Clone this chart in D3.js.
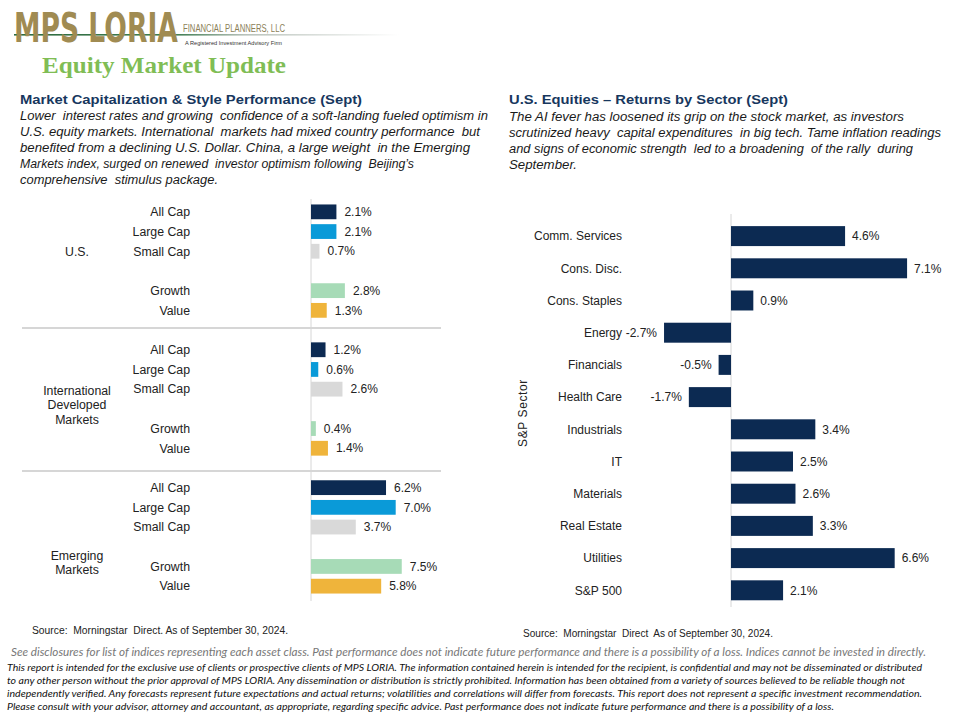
<!DOCTYPE html>
<html>
<head>
<meta charset="utf-8">
<script src="https://cdn.jsdelivr.net/npm/d3@7"></script>
<style>
  html, body { margin: 0; padding: 0; background: #ffffff; }
  svg { display: block; }
</style>
</head>
<body>
<script>
// ---------------- DATA ----------------
const styleCategories = ["All Cap", "Large Cap", "Small Cap", "Growth", "Value"];
const marketGroups = ["U.S.", "International Developed Markets", "Emerging Markets"];
const usReturns   = [2.1, 2.1, 0.7, 2.8, 1.3];
const intlReturns = [1.2, 0.6, 2.6, 0.4, 1.4];
const emReturns   = [6.2, 7.0, 3.7, 7.5, 5.8];

const sectors = ["Comm. Services", "Cons. Disc.", "Cons. Staples", "Energy", "Financials",
  "Health Care", "Industrials", "IT", "Materials", "Real Estate", "Utilities", "S&P 500"];
const sectorReturns = [4.6, 7.1, 0.9, -2.7, -0.5, -1.7, 3.4, 2.5, 2.6, 3.3, 6.6, 2.1];

const leftHeading = "Market Capitalization & Style Performance (Sept)";
const leftParagraph = [
  "Lower  interest rates and growing  confidence of a soft-landing fueled optimism in",
  "U.S. equity markets. International  markets had mixed country performance  but",
  "benefited from a declining U.S. Dollar. China, a large weight  in the Emerging",
  "Markets index, surged on renewed  investor optimism following  Beijing\u2019s",
  "comprehensive  stimulus package."
];
const rightHeading = "U.S. Equities \u2013 Returns by Sector (Sept)";
const rightParagraph = [
  "The AI fever has loosened its grip on the stock market, as investors",
  "scrutinized heavy  capital expenditures  in big tech. Tame inflation readings",
  "and signs of economic strength  led to a broadening  of the rally  during",
  "September."
];
const leftSource = "Source:  Morningstar  Direct. As of September 30, 2024.";
const rightSource = "Source:  Morningstar  Direct  As of September 30, 2024.";
const disclosureLine = "See disclosures for list of indices representing each asset class. Past performance does not indicate future performance and there is a possibility of a loss. Indices cannot be invested in directly.";
const disclaimer = [
  "This report is intended for the exclusive use of clients or prospective clients of MPS LORIA. The information contained herein is intended for the recipient, is confidential and may not be disseminated or distributed",
  "to any other person without the prior approval of MPS LORIA. Any dissemination or distribution is strictly prohibited. Information has been obtained from a variety of sources believed to be reliable though not",
  "independently verified. Any forecasts represent future expectations and actual returns; volatilities and correlations will differ from forecasts. This report does not represent a specific investment recommendation.",
  "Please consult with your advisor, attorney and accountant, as appropriate, regarding specific advice. Past performance does not indicate future performance and there is a possibility of a loss."
];

// ---------------- STYLE ----------------
const styleColors = {
  "All Cap": "#0c2a52",
  "Large Cap": "#0a9ad8",
  "Small Cap": "#d9d9d9",
  "Growth": "#a7dbb7",
  "Value": "#efb43b"
};
const navy = "#0c2a52";
const headingColor = "#17375e";
const sansFont = "'Liberation Sans', Arial, sans-serif";

const svg = d3.select("body").append("svg")
  .attr("width", 960).attr("height", 720)
  .attr("viewBox", "0 0 960 720");

// ---------------- HEADER / LOGO ----------------
const defs = svg.append("defs");
const grad = defs.append("linearGradient").attr("id", "logoLine")
  .attr("x1", "0%").attr("x2", "100%");
grad.append("stop").attr("offset", "0%").attr("stop-color", "#2d6a3e");
grad.append("stop").attr("offset", "42%").attr("stop-color", "#3f7d52");
grad.append("stop").attr("offset", "60%").attr("stop-color", "#b9c2bb");
grad.append("stop").attr("offset", "100%").attr("stop-color", "#ffffff");

svg.append("rect").attr("x", 14).attr("y", 34).attr("width", 385).attr("height", 1.6)
  .attr("fill", "url(#logoLine)");

const logo = svg.append("text")
  .attr("x", 0).attr("y", 0)
  .attr("font-family", "'DejaVu Sans', sans-serif")
  .attr("font-weight", "bold")
  .attr("font-size", 40)
  .attr("fill", "#a08b52")
  .text("MPS LORIA");
const logoW = logo.node().getComputedTextLength() || 260;
logo.attr("transform", `translate(14,42) scale(${164 / logoW},1)`);

svg.append("text")
  .attr("x", 183).attr("y", 32)
  .attr("font-family", sansFont)
  .attr("font-size", 10)
  .attr("fill", "#8c7f58")
  .attr("textLength", 102).attr("lengthAdjust", "spacingAndGlyphs")
  .text("FINANCIAL PLANNERS, LLC");

svg.append("text")
  .attr("x", 185).attr("y", 44.5)
  .attr("font-family", sansFont)
  .attr("font-size", 5.8)
  .attr("fill", "#333")
  .attr("textLength", 97).attr("lengthAdjust", "spacingAndGlyphs")
  .text("A Registered Investment Advisory Firm");

svg.append("text")
  .attr("x", 42).attr("y", 73)
  .attr("font-family", "'Liberation Serif', 'DejaVu Serif', serif")
  .attr("font-weight", "bold")
  .attr("font-size", 24)
  .attr("fill", "#80bd55")
  .attr("textLength", 244).attr("lengthAdjust", "spacingAndGlyphs")
  .text("Equity Market Update");

// ---------------- HEADINGS / PARAGRAPHS ----------------
function heading(x, y, txt, len) {
  svg.append("text").attr("x", x).attr("y", y)
    .attr("font-family", sansFont).attr("font-weight", "bold")
    .attr("font-size", 13).attr("fill", headingColor)
    .attr("textLength", len).attr("lengthAdjust", "spacingAndGlyphs")
    .text(txt);
}
heading(20, 104, leftHeading, 342);
heading(509, 104, rightHeading, 279);

function paragraph(x, y0, lines, ends) {
  svg.append("g").selectAll("text").data(lines).join("text")
    .attr("x", x).attr("y", (d, i) => y0 + i * 16)
    .attr("font-family", sansFont).attr("font-style", "italic")
    .attr("font-size", 12.3).attr("fill", "#1a1a1a")
    .attr("textLength", (d, i) => ends[i] - x)
    .attr("lengthAdjust", "spacingAndGlyphs")
    .style("white-space", "pre")
    .text(d => d);
}
paragraph(20, 120, leftParagraph, [488, 480, 470, 414, 218]);
paragraph(509, 120.5, rightParagraph, [904, 941, 913, 577]);

// ---------------- LEFT CHART ----------------
const groupReturns = [usReturns, intlReturns, emReturns];
const leftRows = [];
groupReturns.forEach((vals, gi) => {
  vals.forEach((v, si) => {
    leftRows.push({
      group: marketGroups[gi], style: styleCategories[si], value: v,
      row: gi * 7 + (si < 3 ? si : si + 1)
    });
  });
});

const yLeft = d3.scaleBand().domain(d3.range(21)).range([202, 202 + 21 * 19.7]).paddingInner(0.25).paddingOuter(0.125);
const xLeft = d3.scaleLinear().domain([0, 8]).range([311, 311 + 8 * 12.1]);
const rowCenter = r => yLeft(r) + yLeft.bandwidth() / 2;

const gl = svg.append("g");
// separators
[[6, -2], [13, 3]].forEach(([r, off]) => {
  const yy = rowCenter(r) + off;
  gl.append("line").attr("x1", 22).attr("x2", 441).attr("y1", yy).attr("y2", yy)
    .attr("stroke", "#c9c9c9").attr("stroke-width", 1.6);
});
// zero line
gl.append("line").attr("x1", xLeft(0)).attr("x2", xLeft(0)).attr("y1", 199).attr("y2", 601)
  .attr("stroke", "#d6d6d6").attr("stroke-width", 1);

gl.selectAll("rect.bar").data(leftRows).join("rect").attr("class", "bar")
  .attr("x", xLeft(0)).attr("y", d => yLeft(d.row))
  .attr("width", d => xLeft(d.value) - xLeft(0))
  .attr("height", yLeft.bandwidth())
  .attr("fill", d => styleColors[d.style]);

gl.selectAll("text.val").data(leftRows).join("text").attr("class", "val")
  .attr("x", d => xLeft(d.value) + 8)
  .attr("y", d => rowCenter(d.row))
  .attr("dy", "0.35em")
  .attr("font-family", sansFont).attr("font-size", 12).attr("fill", "#222")
  .text(d => d.value.toFixed(1) + "%");

gl.selectAll("text.cat").data(leftRows).join("text").attr("class", "cat")
  .attr("x", 190)
  .attr("y", d => rowCenter(d.row))
  .attr("dy", "0.35em").attr("text-anchor", "end")
  .attr("font-family", sansFont).attr("font-size", 12.3).attr("fill", "#222")
  .text(d => d.style);

// group labels
const groupLabelLines = [["U.S."], ["International", "Developed", "Markets"], ["Emerging", "Markets"]];
const groupLabelCenters = [rowCenter(2), rowCenter(9) + 16, rowCenter(17) + 16];
groupLabelLines.forEach((lines, gi) => {
  const c = groupLabelCenters[gi];
  const n = lines.length;
  lines.forEach((t, li) => {
    gl.append("text").attr("x", 77)
      .attr("y", c + (li - (n - 1) / 2) * 14.5)
      .attr("dy", "0.35em").attr("text-anchor", "middle")
      .attr("font-family", sansFont).attr("font-size", 12.3).attr("fill", "#222")
      .text(t);
  });
});

svg.append("text").attr("x", 32).attr("y", 633.5)
  .attr("font-family", sansFont).attr("font-size", 10).attr("fill", "#222")
  .attr("textLength", 256).attr("lengthAdjust", "spacingAndGlyphs")
  .style("white-space", "pre")
  .text(leftSource);

// ---------------- RIGHT CHART ----------------
const yRight = d3.scaleBand().domain(sectors).range([220, 220 + 12 * 32.2]).paddingInner(0.38).paddingOuter(0.19);
const xRight = d3.scaleLinear().domain([-3, 8]).range([731 - 3 * 24.8, 731 + 8 * 24.8]);
const sectorData = sectors.map((s, i) => ({ sector: s, value: sectorReturns[i] }));

const gr = svg.append("g");
gr.append("line").attr("x1", xRight(0)).attr("x2", xRight(0)).attr("y1", 214).attr("y2", 607)
  .attr("stroke", "#d6d6d6").attr("stroke-width", 1);

gr.selectAll("rect").data(sectorData).join("rect")
  .attr("x", d => Math.min(xRight(0), xRight(d.value)))
  .attr("y", d => yRight(d.sector))
  .attr("width", d => Math.abs(xRight(d.value) - xRight(0)))
  .attr("height", yRight.bandwidth())
  .attr("fill", navy);

gr.selectAll("text.val").data(sectorData).join("text").attr("class", "val")
  .attr("x", d => d.value >= 0 ? xRight(d.value) + 7 : xRight(d.value) - 7)
  .attr("y", d => yRight(d.sector) + yRight.bandwidth() / 2)
  .attr("dy", "0.35em")
  .attr("text-anchor", d => d.value >= 0 ? "start" : "end")
  .attr("font-family", sansFont).attr("font-size", 12).attr("fill", "#222")
  .text(d => d.value.toFixed(1) + "%");

gr.selectAll("text.cat").data(sectorData).join("text").attr("class", "cat")
  .attr("x", 622)
  .attr("y", d => yRight(d.sector) + yRight.bandwidth() / 2)
  .attr("dy", "0.35em").attr("text-anchor", "end")
  .attr("font-family", sansFont).attr("font-size", 12).attr("fill", "#222")
  .text(d => d.sector);

gr.append("text")
  .attr("transform", "translate(527,413) rotate(-90)")
  .attr("text-anchor", "middle")
  .attr("font-family", sansFont).attr("font-size", 12).attr("fill", "#222")
  .attr("letter-spacing", 0.6)
  .text("S&P Sector");

svg.append("text").attr("x", 523).attr("y", 636.5)
  .attr("font-family", sansFont).attr("font-size", 10).attr("fill", "#222")
  .attr("textLength", 250).attr("lengthAdjust", "spacingAndGlyphs")
  .style("white-space", "pre")
  .text(rightSource);

// ---------------- FOOTER ----------------
svg.append("text").attr("x", 11).attr("y", 655.5)
  .attr("font-family", "Lato, 'Open Sans', sans-serif").attr("font-style", "italic")
  .attr("font-size", 10.5).attr("fill", "#777")
  .attr("textLength", 915).attr("lengthAdjust", "spacingAndGlyphs")
  .text(disclosureLine);

const discEnds = [922, 905, 922, 834];
svg.append("g").selectAll("text").data(disclaimer).join("text")
  .attr("x", 7).attr("y", (d, i) => 671 + i * 13)
  .attr("font-family", "Lato, 'Open Sans', sans-serif").attr("font-style", "italic")
  .attr("font-size", 9.6).attr("fill", "#111")
  .attr("textLength", (d, i) => discEnds[i] - 7).attr("lengthAdjust", "spacingAndGlyphs")
  .text(d => d);
</script>
</body>
</html>
